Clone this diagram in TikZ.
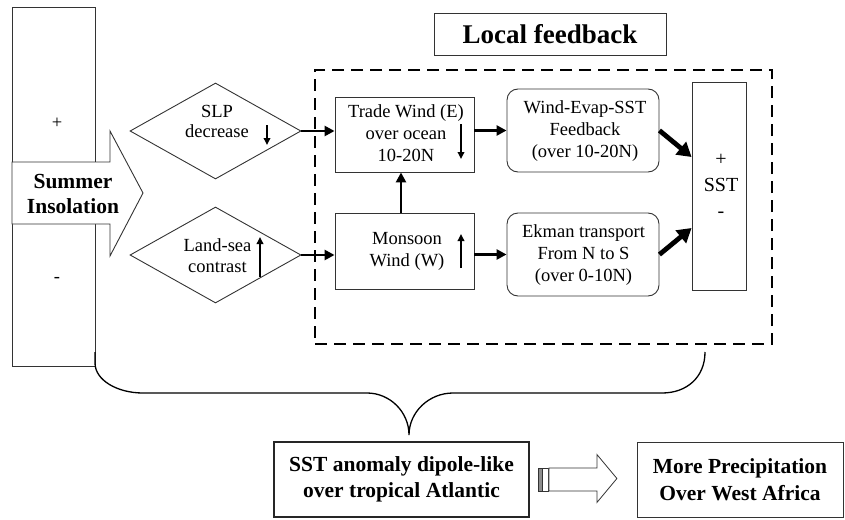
\documentclass[tikz,border=0pt]{standalone}
\usepackage{fontspec}
\setmainfont{Liberation Serif}
\usetikzlibrary{shapes.geometric,arrows.meta,calc}
\begin{document}
\begin{tikzpicture}[x=1pt,y=-1pt,
  txt/.style={font=\fontsize{18.5}{22}\selectfont, align=center, inner sep=0pt},
  bold/.style={font=\bfseries\fontsize{21.5}{25.5}\selectfont, align=center, inner sep=0pt},
  boxed/.style={draw=black!80, line width=0.9pt, inner sep=0pt},
  rbox/.style={boxed, rounded corners=11pt},
  flow/.style={-{Triangle[length=10pt,width=10pt]}, line width=2.6pt},
  bigflow/.style={-{Triangle[length=14pt,width=16pt]}, line width=4.8pt},
  tick/.style={-{Triangle[length=7pt,width=6.5pt]}, line width=2pt},
  brace/.style={draw=black, line width=1.3pt},
  fbframe/.style={draw=black, line width=2pt, dash pattern=on 12pt off 7pt, inner sep=0pt}]
\useasboundingbox (0,0) rectangle (845,519);

% insolation bar with its + and - ends
\node[boxed, minimum width=83pt, minimum height=359pt] (sun) at (53.5,186.5) {};
\node[txt] (sunplus) at (57,123) {+};
\node[txt] (sunminus) at (57,280) {-};
\draw[draw=black!80, line width=0.9pt, fill=white]
  (12,162) -- (110,162) -- (110,131) -- (143,193) -- (110,256) -- (110,224) -- (12,224) -- cycle;
\node[bold] (suntext) at (73,194) {Summer\\Insolation};

% the two forcing diamonds
\node[diamond, draw=black!80, line width=0.9pt, aspect=1.78, minimum width=171pt, minimum height=96pt, inner sep=0pt] (slp) at (215.5,131) {};
\node[txt, font=\fontsize{18.5}{20}\selectfont] (slptext) at (217,121) {SLP\\decrease};
\draw[tick] (267,125) -- (267,145);
\node[diamond, draw=black!80, line width=0.9pt, aspect=1.78, minimum width=171pt, minimum height=96pt, inner sep=0pt] (landsea) at (215.5,255) {};
\node[txt, font=\fontsize{18.5}{21}\selectfont] (landtext) at (217.5,256) {Land-sea\\contrast};
\draw[tick] (260,277) -- (260,237);

% local feedback frame and title
\node[fbframe, minimum width=457pt, minimum height=274pt] (local) at (543.5,207) {};
\node[boxed, minimum width=232pt, minimum height=42pt, font=\bfseries\fontsize{27}{30}\selectfont] (title) at (550,34) {Local feedback};

% wind boxes
\node[boxed, minimum width=139pt, minimum height=75pt] (trade) at (404.5,134.5) {};
\node[txt] (tradetext) at (406,133) {Trade Wind (E)\\over ocean\\10-20N};
\draw[tick] (461,124) -- (461,159);
\node[boxed, minimum width=139pt, minimum height=76pt] (monsoon) at (404.5,251) {};
\node[txt] (monsoontext) at (407,251.5) {Monsoon\\Wind (W)};
\draw[tick] (461,268) -- (461,234);

% ocean response boxes
\node[rbox, minimum width=152pt, minimum height=83pt] (windevap) at (583,130.5) {};
\node[txt] (windevaptext) at (585,131) {Wind-Evap-SST\\Feedback\\(over 10-20N)};
\node[rbox, minimum width=152pt, minimum height=83pt] (ekman) at (583,254.5) {};
\node[txt] (ekmantext) at (583.5,255) {Ekman transport\\From N to S\\(over 0-10N)};

% SST bar
\node[boxed, minimum width=54pt, minimum height=208pt] (sst) at (719,186) {};
\node[txt, font=\fontsize{20}{26}\selectfont] (ssttext) at (721,186) {+\\SST\\-};

% connectors
\draw[flow] (slp.east) -- (slp.east -| trade.west);
\draw[flow] (landsea.east) -- (landsea.east -| monsoon.west);
\draw[flow] (windevap.west -| trade.east) -- (windevap.west);
\draw[flow] (ekman.west -| monsoon.east) -- (ekman.west);
\draw[flow] ($(monsoon.north)+(-3.5,0)$) -- ($(trade.south)+(-3.5,0)$);
\draw[bigflow] (windevap.east) -- ($(sst.west)+(0,-29)$);
\draw[bigflow] (ekman.east) -- ($(sst.west)+(0,42)$);

% result boxes
\node[draw=black!85, line width=1.8pt, minimum width=255pt, minimum height=75pt, bold, font=\bfseries\fontsize{21.5}{26}\selectfont] (dipole) at (401.5,479.5) {SST anomaly dipole-like\\over tropical Atlantic};
\node[boxed, minimum width=206pt, minimum height=75pt, bold, font=\bfseries\fontsize{21.5}{27}\selectfont] (precip) at (740,479.5) {More Precipitation\\Over West Africa};

% brace gathering insolation and local feedback
\coordinate (bracetip) at (409,435);
\draw[brace] (95,352) -- (95,363) .. controls (95,380) and (117,393) .. (143,393)
  -- (367,393) .. controls (390,393) and (409,412) .. (bracetip)
  .. controls (409,412) and (429,393) .. (453,393)
  -- (662,393) .. controls (687,393) and (705,377) .. (705,352);

% hollow arrow from dipole to precipitation
\begin{scope}[shift={(dipole.east)}]
  \draw[draw=black!80, line width=0.8pt, fill=black!45] (8,-11.5) rectangle (12,11.5);
  \draw[draw=black!80, line width=0.8pt, fill=white] (12.5,-11.5) rectangle (18,11.5);
  \draw[draw=black!80, line width=0.8pt, fill=white]
    (19,-11.5) -- (67,-11.5) -- (67,-25) -- (87,-1) -- (67,23) -- (67,11.5) -- (19,11.5) -- cycle;
\end{scope}
\end{tikzpicture}
\end{document}
